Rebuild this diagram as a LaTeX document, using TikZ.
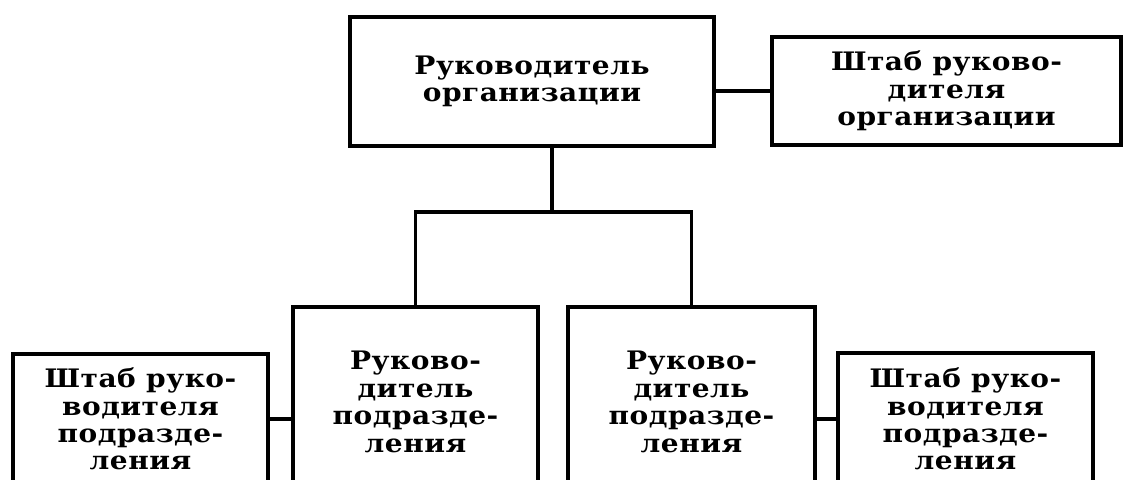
\documentclass[tikz,border=0pt]{standalone}
\usepackage{fontspec}
\setmainfont{DejaVu Serif}[FakeStretch=1.1, LetterSpace=2]
\usetikzlibrary{positioning}
\tikzstyle{unit}=[draw, line width=2.3pt, align=center, inner sep=0pt, font=\fontsize{14.5}{15.6}\selectfont\bfseries]
\tikzstyle{link}=[line width=1.9pt]

\begin{document}
\begin{tikzpicture}[x=0.02cm, y=-0.02cm]
      \useasboundingbox (0, 0) rectangle (1127, 480);
      \clip (0, 0) rectangle (1127, 480);

      \node[unit, minimum width=7.28cm, minimum height=2.58cm] (head) at (532, 81.5)
        {Руководитель\\организации};
      \node[unit, minimum width=6.98cm, minimum height=2.16cm] (head_staff) at (946.5, 91)
        {Штаб руково-\\дителя\\организации};

      \node[unit, minimum width=4.9cm, minimum height=3.8cm] (div_left) at (415.5, 402)
        {Руково-\\дитель\\подразде-\\ления};
      \node[unit, minimum width=4.94cm, minimum height=3.8cm] (div_right) at (691.5, 402)
        {Руково-\\дитель\\подразде-\\ления};

      \node[unit, minimum width=5.1cm, minimum height=2.6cm] (staff_left) at (140.5, 419)
        {Штаб руко-\\водителя\\подразде-\\ления};
      \node[unit, minimum width=5.1cm, minimum height=2.64cm] (staff_right) at (965.5, 419)
        {Штаб руко-\\водителя\\подразде-\\ления};

      \coordinate (bus) at (552, 212);

      \draw[link] (bus |- head.south) -- (bus);
      \draw[link] (div_left.north) |- (bus) -| (div_right.north);
      \draw[link] (head.east |- head_staff.west) -- (head_staff.west);
      \draw[link] (staff_left.east) -- (staff_left.east -| div_left.west);
      \draw[link] (staff_right.west) -- (staff_right.west -| div_right.east);
    \end{tikzpicture}
\end{document}
